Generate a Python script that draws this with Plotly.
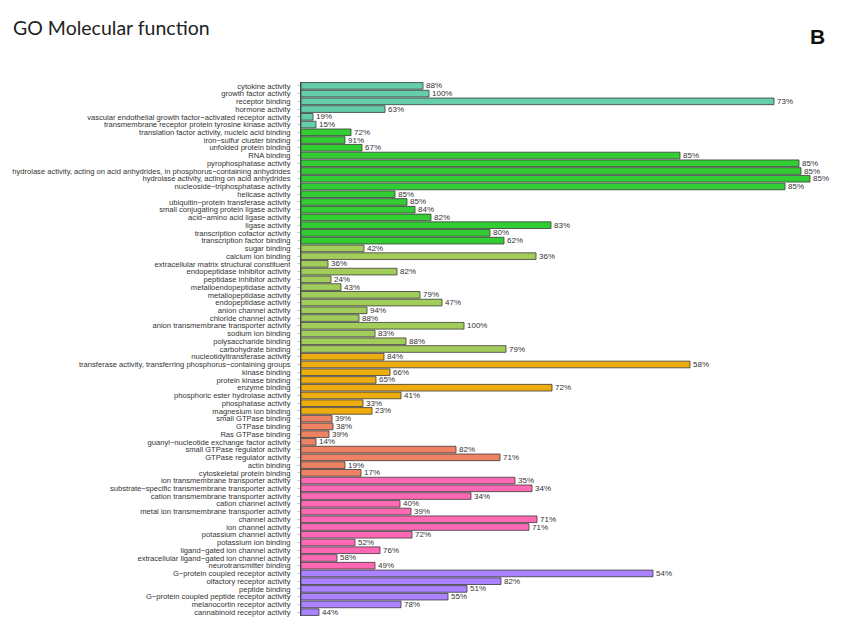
import plotly.graph_objects as go

categories = [
    "cytokine activity", "growth factor activity", "receptor binding", "hormone activity",
    "vascular endothelial growth factor\u2212activated receptor activity",
    "transmembrane receptor protein tyrosine kinase activity",
    "translation factor activity, nucleic acid binding", "iron\u2212sulfur cluster binding",
    "unfolded protein binding", "RNA binding", "pyrophosphatase activity",
    "hydrolase activity, acting on acid anhydrides, in phosphorus\u2212containing anhydrides",
    "hydrolase activity, acting on acid anhydrides", "nucleoside\u2212triphosphatase activity",
    "helicase activity", "ubiquitin\u2212protein transferase activity",
    "small conjugating protein ligase activity", "acid\u2212amino acid ligase activity",
    "ligase activity", "transcription cofactor activity", "transcription factor binding",
    "sugar binding", "calcium ion binding", "extracellular matrix structural constituent",
    "endopeptidase inhibitor activity", "peptidase inhibitor activity",
    "metalloendopeptidase activity", "metallopeptidase activity", "endopeptidase activity",
    "anion channel activity", "chloride channel activity",
    "anion transmembrane transporter activity", "sodium ion binding", "polysaccharide binding",
    "carbohydrate binding", "nucleotidyltransferase activity",
    "transferase activity, transferring phosphorus\u2212containing groups", "kinase binding",
    "protein kinase binding", "enzyme binding", "phosphoric ester hydrolase activity",
    "phosphatase activity", "magnesium ion binding", "small GTPase binding", "GTPase binding",
    "Ras GTPase binding", "guanyl\u2212nucleotide exchange factor activity",
    "small GTPase regulator activity", "GTPase regulator activity", "actin binding",
    "cytoskeletal protein binding", "ion transmembrane transporter activity",
    "substrate\u2212specific transmembrane transporter activity",
    "cation transmembrane transporter activity", "cation channel activity",
    "metal ion transmembrane transporter activity", "channel activity", "ion channel activity",
    "potassium channel activity", "potassium ion binding", "ligand\u2212gated ion channel activity",
    "extracellular ligand\u2212gated ion channel activity", "neurotransmitter binding",
    "G\u2212protein coupled receptor activity", "olfactory receptor activity", "peptide binding",
    "G\u2212protein coupled peptide receptor activity", "melanocortin receptor activity",
    "cannabinoid receptor activity",
]

counts = [122, 128, 473, 84, 12, 15, 50, 44, 61, 379, 498, 500, 509, 484, 94, 106, 114, 130,
          250, 189, 203, 63, 235, 27, 96, 30, 40, 119, 141, 66, 58, 163, 74, 105, 205, 83, 389,
          89, 75, 251, 100, 62, 71, 31, 32, 28, 15, 155, 199, 44, 60, 214, 231, 170, 99, 110,
          236, 228, 111, 54, 79, 36, 74, 352, 200, 166, 147, 100, 18]

percents = [88, 100, 73, 63, 19, 15, 72, 91, 67, 85, 85, 85, 85, 85, 85, 85, 84, 82, 83, 80, 62,
            42, 36, 36, 82, 24, 43, 79, 47, 94, 88, 100, 83, 88, 79, 84, 58, 66, 65, 72, 41, 33,
            23, 39, 38, 39, 14, 82, 71, 19, 17, 35, 34, 34, 40, 39, 71, 71, 72, 52, 76, 58, 49,
            54, 82, 51, 55, 78, 44]

group_sizes = [6, 15, 14, 8, 8, 12, 6]
group_colors = ["#66CDAA", "#32CD32", "#A2CD5A", "#EEAD0E", "#EE8262", "#FF69B4", "#AB82FF"]

colors = []
for n, c in zip(group_sizes, group_colors):
    colors += [c] * n

# the page body adds an 8 px offset; figure coordinates are page coordinates minus 8
OFF = 8
W, H = 842, 630
L, R, T, B = 301 - OFF, 842 - (811 - OFF), 82 - OFF, 630 - (616 - OFF)
pw, ph = W - L - R, H - T - B


def px_x(x):
    return (x - OFF - L) / pw


def px_y(y):
    return (H - B - (y - OFF)) / ph


fig = go.Figure(go.Bar(
    x=counts, y=list(range(len(categories))), orientation="h",
    marker=dict(color=colors, line=dict(color="#3a3a3a", width=0.8)),
    text=[f"{p}%" for p in percents], textposition="outside",
    textfont=dict(family="Liberation Sans, Arial", size=8, color="#333333"),
    cliponaxis=False, width=0.86,
))

fig.update_layout(
    width=W, height=H,
    margin=dict(l=L, r=R, t=T, b=B, autoexpand=False),
    paper_bgcolor="white", plot_bgcolor="white",
    showlegend=False,
    font=dict(family="Liberation Sans, Arial", size=8, color="#333333"),
    xaxis=dict(range=[0, 510], showgrid=False, zeroline=False, showticklabels=False,
               ticks="", showline=False, automargin=False),
    yaxis=dict(range=[68.5, -0.5], showgrid=False, zeroline=False, ticks="outside",
               tickmode="array", tickvals=list(range(len(categories))), ticktext=categories,
               ticklen=3, tickcolor="#bcd3e6", showline=True, linecolor="#444444",
               linewidth=1, tickfont=dict(size=7.6, color="#333333"), automargin=False,
               ticklabelstandoff=5),
    uniformtext=dict(minsize=7, mode="show"),
    annotations=[
        dict(text="GO Molecular function", x=px_x(11), y=px_y(28), xref="paper", yref="paper",
             showarrow=False, xanchor="left", yanchor="middle",
             font=dict(family="Lato, Liberation Sans", size=19.5, color="#222222")),
        dict(text="<b>B</b>", x=px_x(817), y=px_y(37), xref="paper", yref="paper",
             showarrow=False, xanchor="center", yanchor="middle",
             font=dict(family="Liberation Sans, Arial", size=21, color="#111111")),
    ],
)

fig.write_html("out.html")
